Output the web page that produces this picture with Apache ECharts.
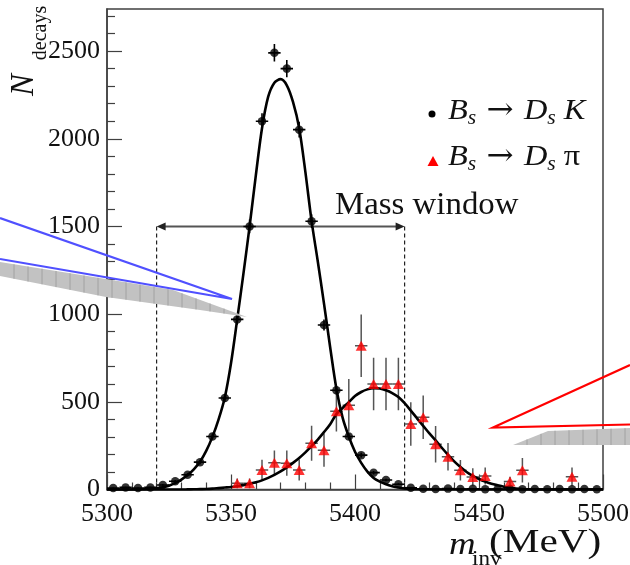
<!DOCTYPE html>
<html><head><meta charset="utf-8">
<script src="https://cdn.jsdelivr.net/npm/echarts@6/dist/echarts.min.js"></script>
<style>html,body{margin:0;padding:0;background:#fff}#c{width:630px;height:565px}</style>
</head><body><div id="c"></div>
<script>
// ---------- data ----------
const binCenters = [5302.5,5307.5,5312.5,5317.5,5322.5,5327.5,5332.5,5337.5,5342.5,5347.5,
  5352.5,5357.5,5362.5,5367.5,5372.5,5377.5,5382.5,5387.5,5392.5,5397.5,
  5402.5,5407.5,5412.5,5417.5,5422.5,5427.5,5432.5,5437.5,5442.5,5447.5,
  5452.5,5457.5,5462.5,5467.5,5472.5,5477.5,5482.5,5487.5,5492.5,5497.5];
const dsKCounts = [8,12,8,12,26,47,84,156,302,522,
  970,1500,2100,2490,2400,2052,1530,938,566,302,
  196,96,54,30,10,4,3,5,3,4,
  2,3,3,2,3,2,3,2,3,2];
const dsKErr = [3,3,3,3,5,7,9,12,17,23,
  31,39,46,50,49,45,39,31,24,17,
  14,10,7,5,3,2,2,2,2,2,
  2,2,2,2,2,2,2,2,2,2];
const dsPiX = [5352.5,5357.5,5362.5,5367.5,5372.5,5377.5,5382.5,5387.5,5392.5,5397.5,
  5402.5,5407.5,5412.5,5417.5,5422.5,5427.5,5432.5,5437.5,5442.5,5447.5,
  5452.5,5462.5,5467.5,5487.5];
const dsPiCounts = [35,35,111,153,150,111,264,224,446,480,
  820,602,602,602,374,412,258,187,110,71,
  77,45,110,73];
const dsPiErr = [28,28,58,70,72,60,100,94,115,150,
  178,150,150,150,124,124,104,78,58,50,
  48,28,70,52];
const fitKX = [5300,5305,5310,5315,5317.5,5320,5322.5,5325,5327.5,5330,5332.5,5335,5337.5,5340,5342.5,5345,5347.5,5350,
  5352.5,5355,5357.5,5360,5362.5,5365,5367.5,5370,5372.5,5375,5377.5,5380,5382.5,5385,5387.5,5390,
  5392.5,5395,5397.5,5400,5402.5,5405,5407.5,5410,5412.5,5415,5417.5,5420,5422.5,5425,5427.5,5430,5440,5460,5480,5500];
const fitKY = [0,0,0,2,4,7,13,22,36,56,82,115,158,220,300,400,525,720,
  970,1230,1500,1790,2060,2240,2320,2340,2305,2210,2060,1810,1530,1300,1060,810,
  575,410,302,215,152,102,66,45,30,19,11,6,3,1,0,0,0,0,0,0];
const fitPiX = [5300,5320,5330,5332.5,5335,5337.5,5340,5342.5,5345,5347.5,5350,5352.5,5355,5357.5,5360,5362.5,5365,5367.5,
  5370,5372.5,5375,5377.5,5380,5382.5,5385,5387.5,5390,5392.5,5395,5397.5,5400,5402.5,5405,5407.5,
  5410,5412.5,5415,5417.5,5420,5422.5,5425,5427.5,5430,5432.5,5435,5437.5,5440,5442.5,5445,5447.5,
  5450,5452.5,5455,5457.5,5460,5462.5,5465,5467.5,5470,5472.5,5475,5490,5500];
const fitPiY = [0,0,0,0.5,1,2,3,5,8,11,14,19,25,32,41,52,66,83,
  103,126,152,180,212,247,285,327,372,430,465,498,533,556,571,578,
  576,566,550,527,492,450,406,363,320,280,238,198,160,128,100,78,
  60,45,33,24,16,10,6,3,1,0,0,0,0];
const massWindow = [5320, 5420];
const massLevel = 1500;
const xTicks = [5300, 5350, 5400, 5450, 5500];
const yMajor = [0, 500, 1000, 1500, 2000, 2500];
const yMinor = [100,200,300,400,600,700,800,900,1100,1200,1300,1400,1600,1700,1800,1900,2100,2200,2300,2400,2600,2700];
const yMax = 2740;

// ---------- helpers ----------
const SERIF = '"Liberation Serif","Times New Roman",serif';
const AX = '#404040';
function errRender(color, halfW, lw){
  return function(params, api){
    const x = api.value(0), y = api.value(1), e = api.value(2);
    const a = api.coord([x, Math.max(0, y - e)]), b = api.coord([x, y + e]);
    const l = api.coord([x - halfW, y]), r = api.coord([x + halfW, y]);
    return {type:'group', children:[
      {type:'line', shape:{x1:a[0],y1:a[1],x2:b[0],y2:b[1]}, style:{stroke:color, lineWidth:lw}},
      {type:'line', shape:{x1:l[0],y1:l[1],x2:r[0],y2:r[1]}, style:{stroke:color, lineWidth:lw}}
    ]};
  };
}
function interp(poly, x){
  for (let i=0;i<poly.length-1;i++){
    const p=poly[i], q=poly[i+1];
    if (x>=p[0] && x<=q[0]) return p[1]+(q[1]-p[1])*(x-p[0])/(q[0]-p[0]);
  }
  return null;
}
function hatched(top, bottom, step, z){
  const pts = top.concat(bottom.slice().reverse());
  const els = [{type:'polygon', shape:{points:pts}, style:{fill:'#c2c2c2'}, z:z}];
  const x0 = Math.max(top[0][0], bottom[0][0]), x1 = Math.min(top[top.length-1][0], bottom[bottom.length-1][0]);
  for (let x = x0 + step; x < x1; x += step){
    const yt = interp(top, x), yb = interp(bottom, x);
    if (yt != null && yb != null && yb - yt > 1)
      els.push({type:'line', shape:{x1:x,y1:yt,x2:x,y2:yb}, style:{stroke:'#999', lineWidth:0.8}, z:z+1});
  }
  return els;
}

const chart = echarts.init(document.getElementById('c'));
const legendRich = {
  i:{fontFamily:SERIF, fontStyle:'italic', fontSize:30, lineHeight:36, verticalAlign:'middle', fill:'#111'},
  n:{fontFamily:SERIF, fontSize:30, lineHeight:36, verticalAlign:'middle', fill:'#111'},
  a:{fontFamily:'"DejaVu Serif",serif', fontSize:30, lineHeight:36, verticalAlign:'middle', fill:'#111'},
  s:{fontFamily:SERIF, fontStyle:'italic', fontSize:20, lineHeight:14, verticalAlign:'bottom', fill:'#111'}
};

const graphics = [
  // left overlay
  ...hatched([[0,262],[106,279],[173,290],[247,317]], [[0,276],[106,297],[200,310],[247,317]], 14, 50),
  {type:'polyline', shape:{points:[[0,218],[232,299],[0,259]]}, style:{stroke:'#5050ff', lineWidth:2.2, fill:null}, z:60},
  // right overlay
  ...hatched([[513,445],[548,431],[630,428]], [[513,445],[630,445]], 14, 50),
  {type:'polyline', shape:{points:[[630,365],[493,427.5],[630,424.5]]}, style:{stroke:'#ff0000', lineWidth:2.2, fill:null}, z:60},
  // legend
  {type:'circle', shape:{cx:432, cy:114, r:3.5}, style:{fill:'#000'}, z:40},
  {type:'polygon', shape:{points:[[433,156],[427.5,166],[438.5,166]]}, style:{fill:'#ff0000'}, z:40},
  {type:'text', x:448, y:111, scaleX:1.08, z:40, style:{text:'{i|B}{s|s}{a| → }{i|D}{s|s}{n| }{i|K}', rich:legendRich, verticalAlign:'middle', align:'left'}},
  {type:'text', x:448, y:157, scaleX:1.08, z:40, style:{text:'{i|B}{s|s}{a| → }{i|D}{s|s}{n| π}', rich:legendRich, verticalAlign:'middle', align:'left'}},
  // mass window label
  {type:'text', x:335, y:206, scaleX:1.06, z:40, style:{text:'Mass window', fontFamily:SERIF, fontSize:31, fill:'#111', verticalAlign:'middle', align:'left'}},
  // y title
  {type:'text', x:24, y:85, rotation:Math.PI/2, z:40, style:{text:'N', fontFamily:SERIF, fontStyle:'italic', fontSize:33, fill:'#111', align:'center', verticalAlign:'middle'}},
  {type:'text', x:41, y:33, rotation:Math.PI/2, z:40, style:{text:'decays', fontFamily:SERIF, fontSize:20, fill:'#111', align:'center', verticalAlign:'middle'}},
  // x title
  {type:'text', x:449, y:546, scaleX:1.15, z:40, style:{text:'m', fontFamily:SERIF, fontStyle:'italic', fontSize:32, fill:'#111', align:'left', verticalAlign:'middle'}},
  {type:'text', x:472, y:559, scaleX:1.1, z:40, style:{text:'inv', fontFamily:SERIF, fontSize:21, fill:'#111', align:'left', verticalAlign:'middle'}},
  {type:'text', x:489, y:543, scaleX:1.25, z:40, style:{text:'(MeV)', fontFamily:SERIF, fontSize:33, fill:'#111', align:'left', verticalAlign:'middle'}}
];

const option = {
  animation:false,
  backgroundColor:'#fff',
  grid:{left:107, right:27, top:9, bottom:75.5, show:true, borderColor:AX, borderWidth:1.5, backgroundColor:'transparent', outerBoundsMode:'none'},
  xAxis:{type:'value', min:5300, max:5500, interval:50,
    axisLine:{show:true, onZero:false, lineStyle:{color:AX, width:1.5}},
    axisTick:{show:true, inside:true, length:15, lineStyle:{color:AX, width:1.2}},
    minorTick:{show:true, splitNumber:5, length:7, lineStyle:{color:AX, width:1.2}},
    axisLabel:{fontFamily:SERIF, fontSize:26, color:'#111', margin:12, customValues:xTicks, formatter:function(v){return String(v);}},
    splitLine:{show:false}},
  yAxis:[
    {type:'value', min:0, max:yMax, position:'left',
     axisLine:{show:true, lineStyle:{color:AX, width:1.5}},
     axisTick:{show:true, inside:true, length:15, lineStyle:{color:AX, width:1.2}, customValues:yMajor},
     axisLabel:{fontFamily:SERIF, fontSize:26, color:'#111', margin:7, customValues:yMajor, formatter:function(v){return String(v);}},
     splitLine:{show:false}},
    {type:'value', min:0, max:yMax, position:'left',
     axisLine:{show:false},
     axisTick:{show:true, inside:true, length:8, lineStyle:{color:AX, width:1.2}, customValues:yMinor},
     axisLabel:{show:false},
     splitLine:{show:false}}
  ],
  graphic:graphics,
  series:[
    {type:'custom', name:'mass', z:3, clip:false,
     renderItem:function(params, api){
       const y0 = api.coord([massWindow[0], 0]), l = api.coord([massWindow[0], massLevel]);
       const r = api.coord([massWindow[1], massLevel]), y1 = api.coord([massWindow[1], 0]);
       const dash = {stroke:'#222', lineWidth:1.2, lineDash:[4,3]};
       return {type:'group', children:[
         {type:'line', shape:{x1:l[0],y1:y0[1],x2:l[0],y2:l[1]}, style:dash},
         {type:'line', shape:{x1:r[0],y1:y1[1],x2:r[0],y2:r[1]}, style:dash},
         {type:'line', shape:{x1:l[0]+5,y1:l[1],x2:r[0]-5,y2:r[1]}, style:{stroke:'#555', lineWidth:2}},
         {type:'polygon', shape:{points:[[l[0],l[1]],[l[0]+9,l[1]-4],[l[0]+9,l[1]+4]]}, style:{fill:'#222'}},
         {type:'polygon', shape:{points:[[r[0],r[1]],[r[0]-9,r[1]-4],[r[0]-9,r[1]+4]]}, style:{fill:'#222'}}
       ]};
     },
     data:[[massWindow[0], massLevel]]},
    {type:'custom', name:'piErr', z:4, clip:true, renderItem:errRender('#555', 2.5, 1.5),
     data:dsPiX.map((x,i)=>[x, dsPiCounts[i], dsPiErr[i]])},
    {type:'custom', name:'kErr', z:4, clip:true, renderItem:errRender('#000', 2.5, 1.6),
     data:binCenters.map((x,i)=>[x, dsKCounts[i], dsKErr[i]])},
    {type:'line', name:'fitK', z:5, smooth:0.3, showSymbol:false, symbol:'none',
     lineStyle:{color:'#000', width:2.6}, data:fitKX.map((x,i)=>[x, fitKY[i]])},
    {type:'line', name:'fitPi', z:5, smooth:0.3, showSymbol:false, symbol:'none',
     lineStyle:{color:'#000', width:2.6}, data:fitPiX.map((x,i)=>[x, fitPiY[i]])},
    {type:'scatter', name:'K', z:6, symbol:'circle', symbolSize:8.5, itemStyle:{color:'#000'},
     data:binCenters.map((x,i)=>[x, dsKCounts[i]])},
    {type:'scatter', name:'pi', z:7, symbol:'triangle', symbolSize:[11,10], itemStyle:{color:'#ff0000'},
     data:dsPiX.map((x,i)=>[x, dsPiCounts[i]])}
  ]
};
chart.setOption(option);
</script></body></html>
